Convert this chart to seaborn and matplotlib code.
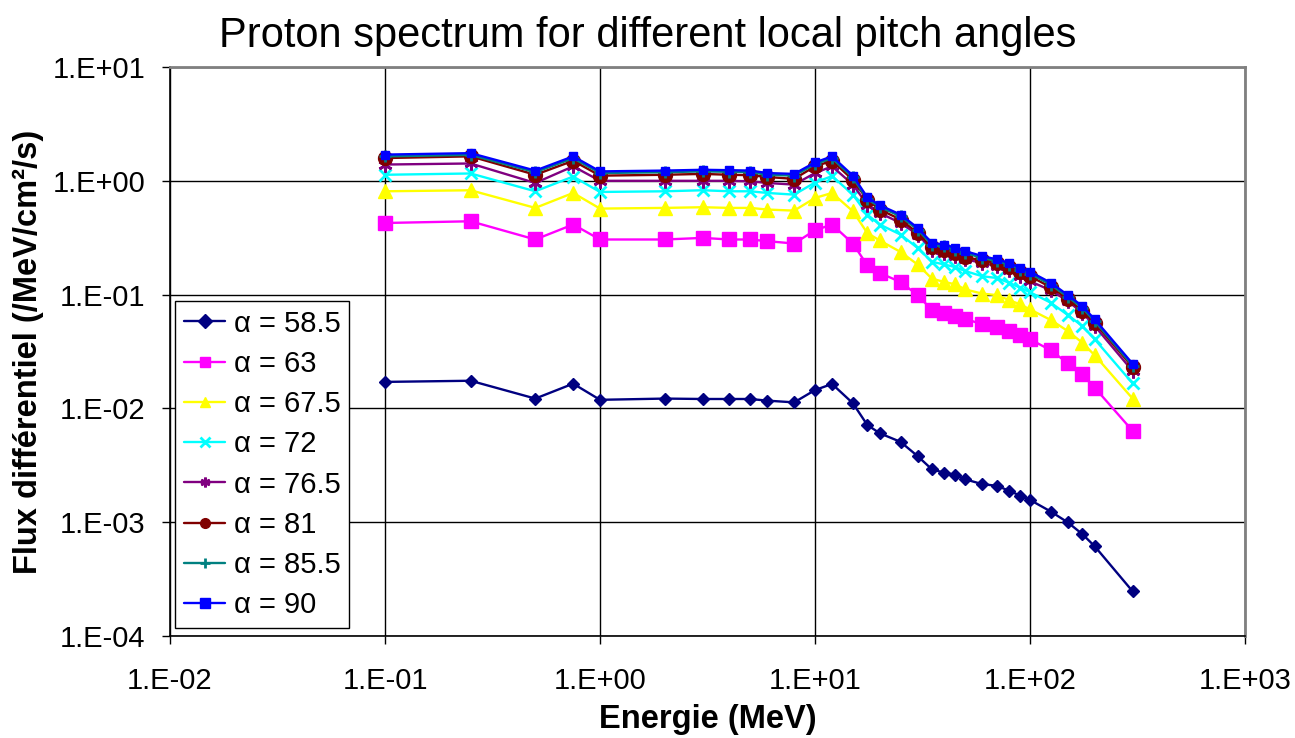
import numpy as np
import pandas as pd
import seaborn as sns
import matplotlib.pyplot as plt
from matplotlib.ticker import FixedLocator, FuncFormatter, NullLocator

# Energies (MeV)
energie = [0.1, 0.25, 0.5, 0.75, 1, 2, 3, 4, 5, 6, 8, 10, 12, 15, 17.5, 20, 25, 30,
           35, 40, 45, 50, 60, 70, 80, 90, 100, 125, 150, 175, 200, 300]

# Differential flux (/MeV/cm2/s) per local pitch angle
flux_58_5 = [0.0171, 0.0175, 0.0122, 0.0165, 0.0119, 0.0122, 0.0121, 0.0121, 0.0121, 0.0117, 0.0113,
             0.0145, 0.0164, 0.0111, 0.00716, 0.00605, 0.00508, 0.00381, 0.00291, 0.00272, 0.00261,
             0.00238, 0.00216, 0.00209, 0.00189, 0.00171, 0.00157, 0.00124, 0.000995, 0.000787,
             0.000614, 0.000247]
flux_63 = [0.426, 0.441, 0.305, 0.413, 0.305, 0.305, 0.315, 0.305, 0.305, 0.295, 0.281,
           0.368, 0.413, 0.281, 0.181, 0.155, 0.129, 0.099, 0.0731, 0.0692, 0.0647,
           0.0613, 0.0547, 0.0522, 0.0478, 0.0441, 0.0405, 0.0324, 0.0249, 0.0199,
           0.0152, 0.00635]
flux_67_5 = [0.809, 0.826, 0.578, 0.782, 0.570, 0.578, 0.586, 0.578, 0.578, 0.559, 0.547,
             0.707, 0.782, 0.540, 0.348, 0.299, 0.237, 0.184, 0.138, 0.129, 0.123,
             0.111, 0.102, 0.099, 0.0895, 0.082, 0.0741, 0.0598, 0.0478, 0.0378,
             0.0293, 0.0122]
flux_72 = [1.13, 1.16, 0.809, 1.09, 0.798, 0.809, 0.826, 0.809, 0.809, 0.782, 0.756,
           0.966, 1.10, 0.756, 0.505, 0.413, 0.337, 0.257, 0.194, 0.184, 0.174,
           0.161, 0.145, 0.140, 0.127, 0.115, 0.105, 0.0848, 0.0661, 0.053,
           0.0405, 0.0166]
flux_76_5 = [1.39, 1.42, 0.957, 1.34, 1.00, 1.00, 1.00, 1.00, 0.99, 0.957, 0.926,
             1.17, 1.34, 0.926, 0.618, 0.522, 0.426, 0.337, 0.249, 0.233, 0.218,
             0.204, 0.190, 0.178, 0.166, 0.145, 0.131, 0.109, 0.0877, 0.0692,
             0.053, 0.0213]
flux_81 = [1.585, 1.64, 1.13, 1.50, 1.11, 1.13, 1.15, 1.13, 1.12, 1.08, 1.04,
           1.34, 1.50, 1.02, 0.684, 0.559, 0.457, 0.348, 0.261, 0.249, 0.233,
           0.213, 0.200, 0.190, 0.174, 0.157, 0.145, 0.116, 0.0918, 0.0716,
           0.0566, 0.0231]
flux_85_5 = [1.64, 1.69, 1.19, 1.58, 1.17, 1.19, 1.21, 1.20, 1.19, 1.13, 1.11,
             1.40, 1.58, 1.07, 0.69, 0.59, 0.487, 0.372, 0.275, 0.265, 0.248,
             0.232, 0.210, 0.197, 0.183, 0.166, 0.153, 0.122, 0.0955, 0.0765,
             0.0585, 0.0238]
flux_90 = [1.70, 1.75, 1.23, 1.64, 1.21, 1.23, 1.25, 1.24, 1.23, 1.17, 1.15,
           1.45, 1.64, 1.11, 0.717, 0.61, 0.505, 0.386, 0.285, 0.275, 0.257,
           0.241, 0.218, 0.204, 0.190, 0.172, 0.159, 0.127, 0.099, 0.0793,
           0.0606, 0.0247]

labels = ['α = 58.5', 'α = 63', 'α = 67.5', 'α = 72', 'α = 76.5', 'α = 81', 'α = 85.5', 'α = 90']
series = [flux_58_5, flux_63, flux_67_5, flux_72, flux_76_5, flux_81, flux_85_5, flux_90]

# Excel-like styles
colors = ['#000080', '#FF00FF', '#FFFF00', '#00FFFF', '#800080', '#800000', '#008080', '#0000FF']
markers = ['D', 's', '^', 'x', (6, 2, 0), 'o', '+', 's']
msizes = [6, 10.5, 9.5, 9, 10, 10, 9, 6]

sns.set_style('white')
plt.rcParams['font.family'] = ['Liberation Sans', 'DejaVu Sans']
plt.rcParams['text.color'] = 'black'
plt.rcParams['axes.labelcolor'] = 'black'
plt.rcParams['xtick.color'] = 'black'
plt.rcParams['ytick.color'] = 'black'

fig = plt.figure(figsize=(12.95, 7.38), dpi=100)
ax = fig.add_axes([0.1313, 0.1382, 0.8301, 0.7710])

for lab, vals, c, m, ms in zip(labels, series, colors, markers, msizes):
    df = pd.DataFrame({'energie': energie, 'flux': vals})
    sns.lineplot(data=df, x='energie', y='flux', ax=ax, color=c, marker=m,
                 markersize=ms, markeredgecolor=c, markeredgewidth=2 if m in ('x', '+', (6, 2, 0)) else 1,
                 linewidth=1.7, label=lab)

ax.set_xscale('log')
ax.set_yscale('log')
ax.set_xlim(1e-2, 1e3)
ax.set_ylim(1e-4, 1e1)

fmt = FuncFormatter(lambda v, p: '1.E{:+03d}'.format(int(round(np.log10(v)))))
ax.xaxis.set_major_locator(FixedLocator([1e-2, 1e-1, 1e0, 1e1, 1e2, 1e3]))
ax.yaxis.set_major_locator(FixedLocator([1e-4, 1e-3, 1e-2, 1e-1, 1e0, 1e1]))
ax.xaxis.set_minor_locator(NullLocator())
ax.yaxis.set_minor_locator(NullLocator())
ax.xaxis.set_major_formatter(fmt)
ax.yaxis.set_major_formatter(fmt)
ax.tick_params(axis='both', direction='out', length=6, width=1, color='black',
               labelsize=21, bottom=True, left=True)
ax.tick_params(axis='x', pad=16)
ax.tick_params(axis='y', pad=12)

ax.grid(True, which='major', color='black', linewidth=1)
for s in ['left', 'bottom']:
    ax.spines[s].set_color('black')
    ax.spines[s].set_linewidth(1.2)
for s in ['top', 'right']:
    ax.spines[s].set_color('#808080')
    ax.spines[s].set_linewidth(2)

ax.set_xlabel('Energie (MeV)', fontsize=23.5, fontweight='bold', labelpad=7)
ax.set_ylabel('Flux différentiel (/MeV/cm²/s)', fontsize=23.5, fontweight='bold', labelpad=6)
fig.suptitle('Proton spectrum for different local pitch angles', fontsize=30, y=0.978)

leg = ax.legend(loc='lower left', bbox_to_anchor=(0.005, 0.014), fontsize=21, frameon=True,
                fancybox=False, edgecolor='black', framealpha=1, handlelength=1.4,
                labelspacing=0.42, borderpad=0.3, handletextpad=0.3, borderaxespad=0)
leg.get_frame().set_linewidth(1)
for h in leg.legend_handles:
    h.set_markersize(7)

fig.savefig('out.png', dpi=100, facecolor='white')
